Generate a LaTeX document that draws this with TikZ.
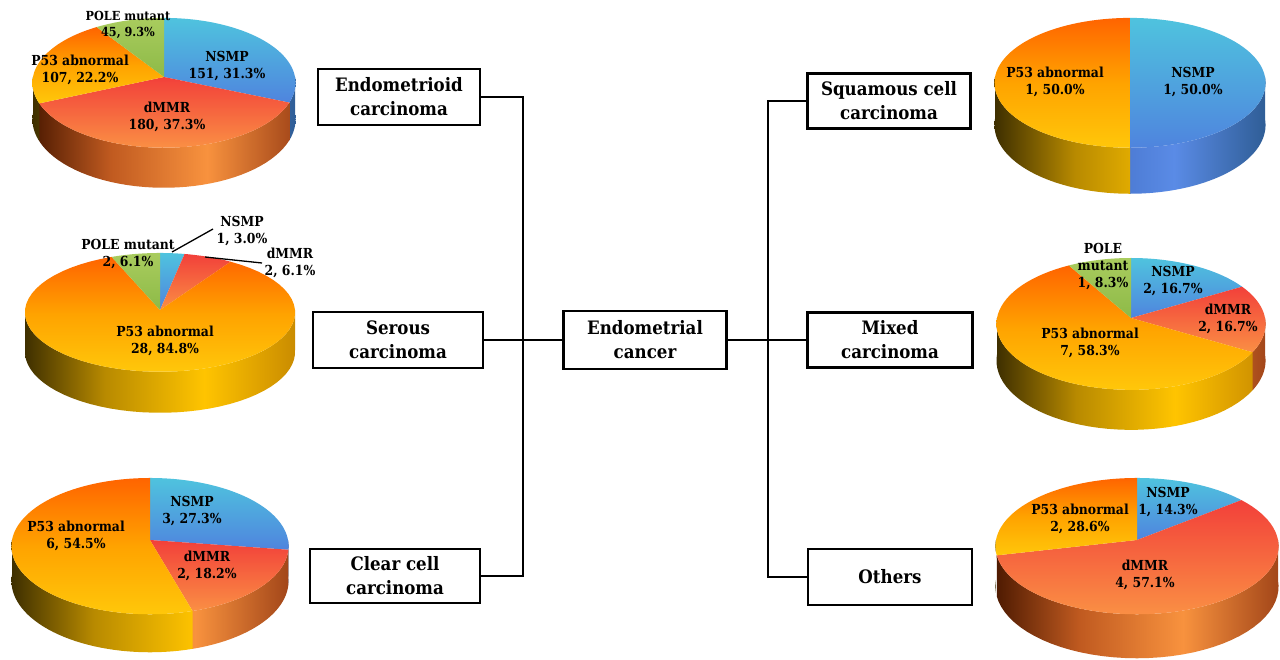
\documentclass[tikz,border=0pt]{standalone}
\usepackage{fontspec}
\setmainfont{DejaVu Serif}[FakeStretch=0.9]
\definecolor{nsT}{HTML}{4FC3DE}
\definecolor{nsB}{HTML}{4F84DE}
\definecolor{dmT}{HTML}{F2403A}
\definecolor{dmB}{HTML}{FA8F44}
\definecolor{p5T}{HTML}{FF6400}
\definecolor{p5M}{HTML}{FFA300}
\definecolor{p5B}{HTML}{FFC70A}
\definecolor{poT}{HTML}{A9CC5E}
\definecolor{poB}{HTML}{8DBA47}
\definecolor{pSa}{HTML}{3A2C00}
\definecolor{pSb}{HTML}{B88A00}
\definecolor{pSc}{HTML}{FFC400}
\definecolor{pSd}{HTML}{C88A00}
\definecolor{dSa}{HTML}{4A1800}
\definecolor{dSb}{HTML}{C05A20}
\definecolor{dSc}{HTML}{F8923E}
\definecolor{dSd}{HTML}{A04418}
\definecolor{nSa}{HTML}{1A3060}
\definecolor{nSb}{HTML}{3F6BC0}
\definecolor{nSc}{HTML}{5A8BE6}
\definecolor{nSd}{HTML}{2E5C94}
\pgfdeclarehorizontalshading{sideP}{100bp}{color(0bp)=(pSa); color(25bp)=(pSa); color(40bp)=(pSb); color(58bp)=(pSc); color(75bp)=(pSd); color(100bp)=(pSd)}
\pgfdeclarehorizontalshading{sideD}{100bp}{color(0bp)=(dSa); color(25bp)=(dSa); color(40bp)=(dSb); color(58bp)=(dSc); color(75bp)=(dSd); color(100bp)=(dSd)}
\pgfdeclarehorizontalshading{sideN}{100bp}{color(0bp)=(nSa); color(25bp)=(nSa); color(40bp)=(nSb); color(58bp)=(nSc); color(75bp)=(nSd); color(100bp)=(nSd)}
\newcommand{\setpie}[6]{\def\pcx{#1}\def\pcy{#2}\def\prx{#3}\def\pry{#4}\def\pp{#5}\def\pd{#6}}
\newcommand{\topslice}[3]{\shade[#3] (\pcx,\pcy) -- plot[domain=#1:#2,samples=60,variable=\ta] ({pieX(\ta)},{pieY(\ta)}) -- cycle;}
\newcommand{\sideslice}[3]{\begin{scope}
 \clip plot[domain=#1:#2,samples=40,variable=\ta] ({pieX(\ta)},{pieY(\ta)}) -- plot[domain=0:1,samples=40,variable=\tb] ({pieX((#2)-((#2)-(#1))*\tb)},{pieYb((#2)-((#2)-(#1))*\tb)}) -- cycle;
 \shade[shading=#3] ({\pcx-\prx-3},{\pcy-\pry}) rectangle ({\pcx+\prx+3},{\pcy+\pry+\pd+20});
 \end{scope}}
\begin{document}
\begin{tikzpicture}[x=1pt,y=-1pt,
 declare function={pieX(\a)=\pcx+\prx*cos(\a)/(1+\pp*sin(\a));
  pieY(\a)=\pcy-\pry*sin(\a)/(1+\pp*sin(\a));
  pieYb(\a)=\pcy-\pry*sin(\a)/(1+\pp*sin(\a))+\pd*(1-\pp)/(1+\pp*sin(\a));},
 nsTop/.style={top color=nsT,bottom color=nsB},
 dmTop/.style={top color=dmT,bottom color=dmB},
 p5Top/.style={top color=p5T,bottom color=p5B,middle color=p5M},
 poTop/.style={top color=poT,bottom color=poB},
 box/.style={draw,line width=2.8pt,fill=white,align=center,inner sep=2pt,
  font=\bfseries\fontsize{18.5}{24}\selectfont},
 lbl/.style={align=center,inner sep=0pt,font=\bfseries\fontsize{13.8}{17}\selectfont},
 conn/.style={line width=2.8pt},
 lead/.style={line width=1.3pt}]
\useasboundingbox (0,0) rectangle (1280,660);
\fill[white] (0,0) rectangle (1280,660);
% ---- Pie 1: Endometrioid
\setpie{164}{77}{131}{64.4}{0.09}{40}
\sideslice{-22.55}{0}{sideN}
\sideslice{-156.71}{-22.55}{sideD}
\sideslice{-180}{-156.71}{sideP}
\topslice{-22.55}{90}{nsTop}
\topslice{-156.71}{-22.55}{dmTop}
\topslice{-236.46}{-156.71}{p5Top}
\topslice{-270}{-236.46}{poTop}
% ---- Pie 2: Serous
\setpie{160}{310}{135}{59.3}{0.04}{41}
\sideslice{-180}{0}{sideP}
\topslice{79.09}{90}{nsTop}
\topslice{57.27}{79.09}{dmTop}
\topslice{-248.18}{57.27}{p5Top}
\topslice{-270}{-248.18}{poTop}
% ---- Pie 3: Clear cell
\setpie{150}{540}{138}{67.6}{0.09}{38}
\sideslice{-8.18}{0}{sideN}
\sideslice{-73.64}{-8.18}{sideD}
\sideslice{-180}{-73.64}{sideP}
\topslice{-8.18}{90}{nsTop}
\topslice{-73.64}{-8.18}{dmTop}
\topslice{-270}{-73.64}{p5Top}
% ---- Pie 4: Squamous
\setpie{1130}{77}{135}{64.4}{0.09}{46}
\sideslice{-90}{0}{sideN}
\sideslice{-180}{-90}{sideP}
\topslice{-90}{90}{nsTop}
\topslice{-270}{-90}{p5Top}
% ---- Pie 5: Mixed
\setpie{1131}{318}{134}{65.4}{0.09}{40}
\sideslice{-30}{0}{sideD}
\sideslice{-180}{-30}{sideP}
\topslice{30}{90}{nsTop}
\topslice{-30}{30}{dmTop}
\topslice{-240}{-30}{p5Top}
\topslice{-270}{-240}{poTop}
% ---- Pie 6: Others
\setpie{1137}{540}{141}{67.6}{0.09}{44}
\sideslice{-167.14}{0}{sideD}
\sideslice{-180}{-167.14}{sideP}
\topslice{38.57}{90}{nsTop}
\topslice{-167.14}{38.57}{dmTop}
\topslice{-270}{-167.14}{p5Top}
% ---- pie labels
\node[lbl,font=\bfseries\fontsize{12.5}{16}\selectfont] (p1pole) at (128,25) {POLE mutant\\45, 9.3\%};
\node[lbl] (p1ns) at (227,66) {NSMP\\151, 31.3\%};
\node[lbl] (p1p53) at (80,70) {P53 abnormal\\107, 22.2\%};
\node[lbl] (p1dm) at (167,117) {dMMR\\180, 37.3\%};
\node[lbl] (p2pole) at (128,254) {POLE mutant\\2, 6.1\%};
\node[lbl] (p2ns) at (242,231) {NSMP\\1, 3.0\%};
\node[lbl] (p2dm) at (290,263) {dMMR\\2, 6.1\%};
\node[lbl] (p2p53) at (165,341) {P53 abnormal\\28, 84.8\%};
\coordinate (l1a) at (172,252); \coordinate (l1b) at (213,229);
\coordinate (l2a) at (205,257); \coordinate (l2b) at (262,263);
\draw[lead] (l1a) -- (l1b);
\draw[lead] (l2a) -- (l2b);
\node[lbl] (p3ns) at (192,511) {NSMP\\3, 27.3\%};
\node[lbl] (p3dm) at (207,566) {dMMR\\2, 18.2\%};
\node[lbl] (p3p53) at (76,536) {P53 abnormal\\6, 54.5\%};
\node[lbl] (p4p53) at (1055,82) {P53 abnormal\\1, 50.0\%};
\node[lbl] (p4ns) at (1193,82) {NSMP\\1, 50.0\%};
\node[lbl] (p5pole) at (1103,267) {POLE\\mutant\\1, 8.3\%};
\node[lbl] (p5ns) at (1173,281) {NSMP\\2, 16.7\%};
\node[lbl] (p5dm) at (1228,319) {dMMR\\2, 16.7\%};
\node[lbl] (p5p53) at (1090,343) {P53 abnormal\\7, 58.3\%};
\node[lbl] (p6ns) at (1168,502) {NSMP\\1, 14.3\%};
\node[lbl] (p6p53) at (1080,519) {P53 abnormal\\2, 28.6\%};
\node[lbl] (p6dm) at (1145,575) {dMMR\\4, 57.1\%};
% ---- boxes
\node[box,minimum width=162pt,minimum height=56pt] (b1) at (399,97) {Endometrioid\\carcinoma};
\node[box,minimum width=170pt,minimum height=56pt] (b2) at (398,340) {Serous\\carcinoma};
\node[box,minimum width=170pt,minimum height=54pt] (b3) at (395,576) {Clear cell\\carcinoma};
\node[box,minimum width=163pt,minimum height=58pt] (c) at (645,340) {Endometrial\\cancer};
\node[box,minimum width=163pt,minimum height=55pt] (r1) at (889,101) {Squamous cell\\carcinoma};
\node[box,minimum width=165pt,minimum height=55pt] (r2) at (890,340) {Mixed\\carcinoma};
\node[box,minimum width=164pt,minimum height=56pt] (r3) at (890,577) {Others};
\coordinate (L) at (523,340);
\coordinate (R) at (768,340);
\draw[conn] (b1.east) -- (b1.east -| L) -- (b3.east -| L) -- (b3.east);
\draw[conn] (b2.east) -- (c.west);
\draw[conn] (r1.west) -- (r1.west -| R) -- (r3.west -| R) -- (r3.west);
\draw[conn] (c.east) -- (r2.west);
\end{tikzpicture}
\end{document}
